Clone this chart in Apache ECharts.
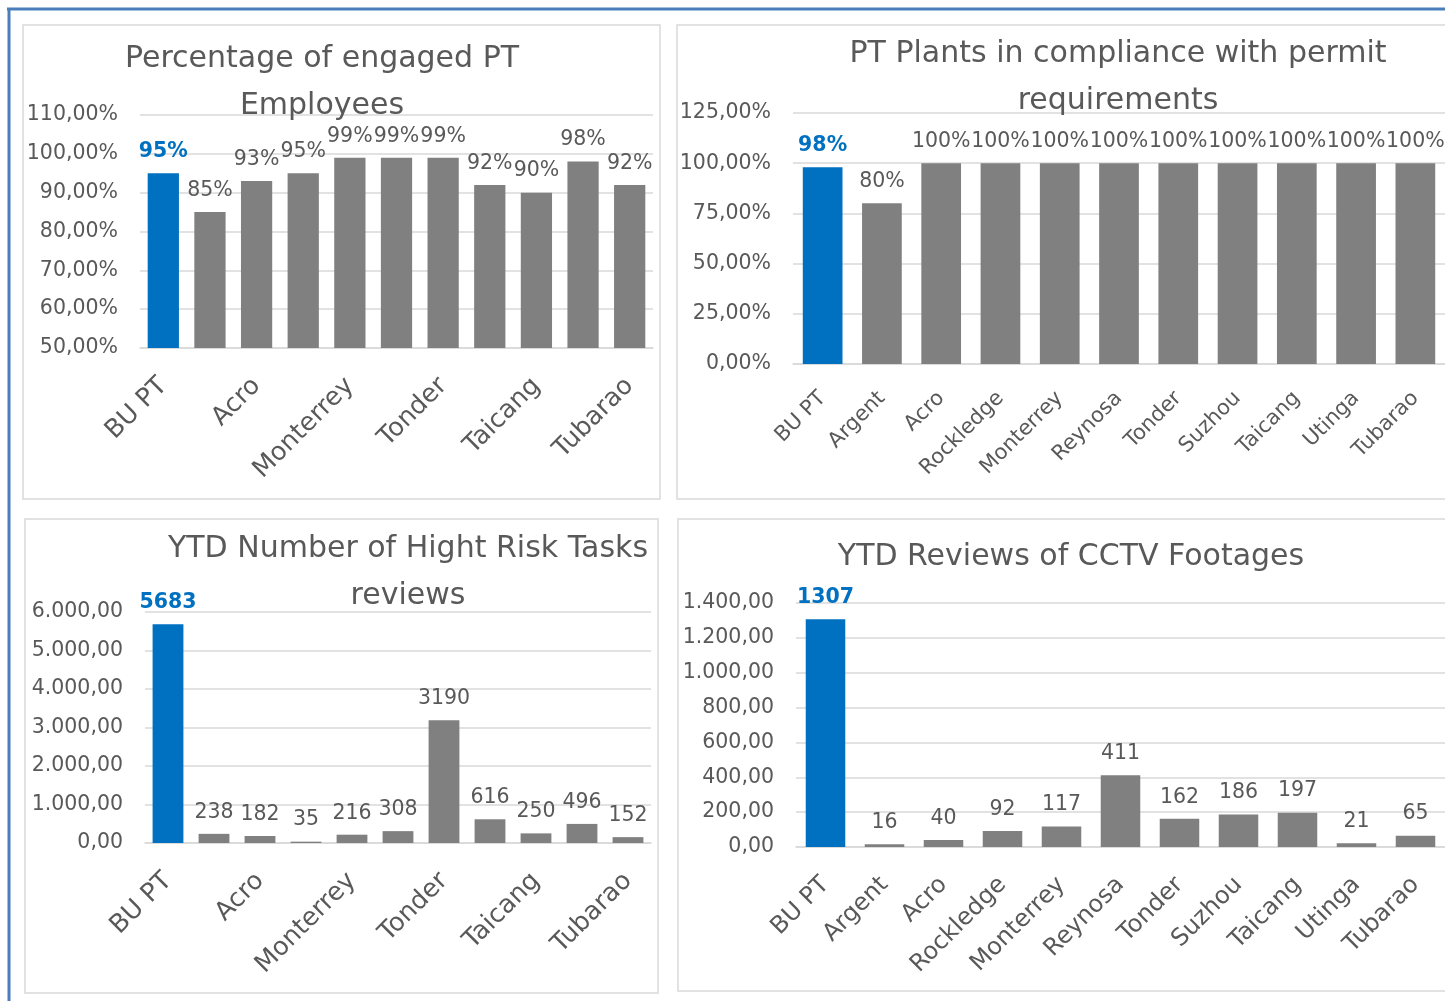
<!DOCTYPE html>
<html><head><meta charset="utf-8">
<script src="https://cdn.jsdelivr.net/npm/echarts@6/dist/echarts.min.js"></script>
<style>html,body{margin:0;padding:0;background:#fff}#c{width:1445px;height:1001px}</style>
</head><body><div id="c"></div>
<script>
const categories = ['BU PT','Argent','Acro','Rockledge','Monterrey','Reynosa','Tonder','Suzhou','Taicang','Utinga','Tubarao'];
const engagedPct = [95, 85, 93, 95, 99, 99, 99, 92, 90, 98, 92];
const compliancePct = [98, 80, 100, 100, 100, 100, 100, 100, 100, 100, 100];
const highRiskReviews = [5683, 238, 182, 35, 216, 308, 3190, 616, 250, 496, 152];
const cctvReviews = [1307, 16, 40, 92, 117, 411, 162, 186, 197, 21, 65];
const titles = ['Percentage of engaged PT\nEmployees','PT Plants in compliance with permit\nrequirements','YTD Number of Hight Risk Tasks\nreviews','YTD Reviews of CCTV Footages'];

const FONT = 'DejaVu Sans';
const TXT = '#595959';
const BLUE = '#0070C0';
const GRAY = '#808080';

function fmtNum(v){
  const parts = v.toFixed(2).split('.');
  parts[0] = parts[0].replace(/\B(?=(\d{3})+(?!\d))/g,'.');
  return parts[0] + ',' + parts[1];
}
function series(vals, idx, suffix){
  return {
    type:'bar', xAxisIndex:idx, yAxisIndex:idx, barCategoryGap:'33%',
    data: vals.map((v,i)=> i===0 ? {value:v, itemStyle:{color:BLUE}, label:{color:BLUE, fontWeight:'bold'}} : v),
    itemStyle:{color:GRAY},
    label:{show:true, position:'top', distance:11, color:TXT, fontFamily:FONT, fontSize:20.5,
      formatter:p=>p.value+suffix}
  };
}
function yAx(idx,min,max,interval,pct){
  return {type:'value', gridIndex:idx, min, max, interval,
    axisLine:{show:false}, axisTick:{show:false},
    splitLine:{lineStyle:{color:'#d9d9d9', width:1.5}},
    axisLabel:{color:TXT, fontFamily:FONT, fontSize:20.5, margin:22, padding:[3,0,0,0],
      formatter:v=> pct ? fmtNum(v)+'%' : fmtNum(v)}};
}
function xAx(idx, interval, size, margin){
  return {type:'category', gridIndex:idx, data:categories,
    axisLine:{lineStyle:{color:'#d9d9d9', width:1.5}}, axisTick:{show:false},
    axisLabel:{color:TXT, fontFamily:FONT, fontSize:size, rotate:45, interval: interval, margin:margin}};
}
const titleStyle = {color:TXT, fontFamily:FONT, fontSize:30, fontWeight:'normal', lineHeight:47};

const option = {
  animation:false,
  title:[
    {text:titles[0], left:317, top:31, textAlign:'center', textStyle:titleStyle},
    {text:titles[1], left:1113, top:26, textAlign:'center', textStyle:titleStyle},
    {text:titles[2], left:403, top:521, textAlign:'center', textStyle:titleStyle},
    {text:titles[3], left:1066, top:529, textAlign:'center', textStyle:titleStyle}
  ],
  grid:[
    {left:140, right:792, top:115, bottom:653},
    {left:793, right:-3, top:113, bottom:637},
    {left:145, right:794, top:612, bottom:158},
    {left:796, right:-2, top:603, bottom:154}
  ],
  xAxis:[xAx(0,1,25.5,34), xAx(1,0,21,31), xAx(2,1,25.5,34), xAx(3,0,24,34)],
  yAxis:[yAx(0,50,110,10,true), yAx(1,0,125,25,true), yAx(2,0,6000,1000,false), yAx(3,0,1400,200,false)],
  series:[series(engagedPct,0,'%'), series(compliancePct,1,'%'), series(highRiskReviews,2,''), series(cctvReviews,3,'')],
  graphic:[
    {type:'rect', shape:{x:23,y:25,width:637,height:474}, style:{fill:'none', stroke:'#d9d9d9', lineWidth:1.5}},
    {type:'rect', shape:{x:677,y:25,width:800,height:474}, style:{fill:'none', stroke:'#d9d9d9', lineWidth:1.5}},
    {type:'rect', shape:{x:25,y:519,width:633,height:474}, style:{fill:'none', stroke:'#d9d9d9', lineWidth:1.5}},
    {type:'rect', shape:{x:678,y:519,width:800,height:472}, style:{fill:'none', stroke:'#d9d9d9', lineWidth:1.5}},
    {type:'line', shape:{x1:7,y1:9,x2:1445,y2:9}, style:{stroke:'#4a7ebb', lineWidth:3}},
    {type:'line', shape:{x1:9,y1:8,x2:9,y2:1001}, style:{stroke:'#4a7ebb', lineWidth:3}}
  ]
};
echarts.init(document.getElementById('c'), null, {renderer:'canvas'}).setOption(option);
</script></body></html>
